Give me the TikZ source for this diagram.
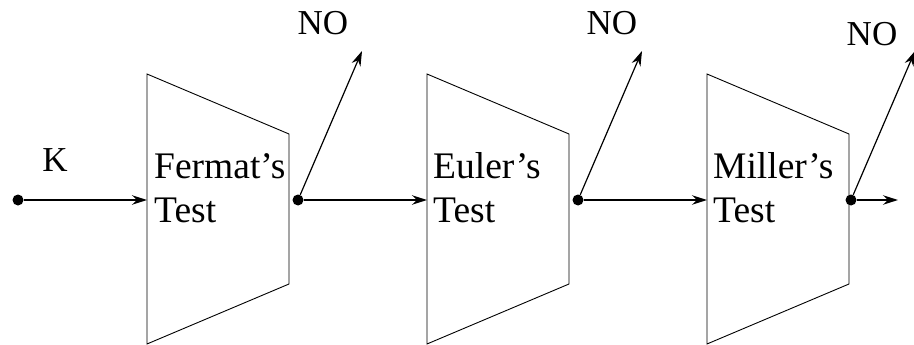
\documentclass[tikz,border=0pt]{standalone}
\usepackage{fontspec}
\setmainfont{Liberation Serif}
\usetikzlibrary{arrows.meta}
\begin{document}
\begin{tikzpicture}[x=1pt, y=-1pt,
  tester/.style={draw, line width=0.9pt, line join=miter},
  lbl/.style={font=\fontsize{35}{44}\selectfont, inner sep=0pt, align=left},
  stagetext/.style={lbl, font=\fontsize{37.5}{44}\selectfont, anchor=base west},
  dot/.style={circle, fill, inner sep=0pt, minimum size=11pt},
  flow/.style={line width=1.2pt, -{Stealth[length=15pt, width=9.5pt, inset=5pt]}}]
\useasboundingbox (0,0) rectangle (914,345);
\clip (0,0) rectangle (914,345);

% the three test stages
\foreach \n/\x in {fermat/147, euler/427, miller/707} {
  \draw[tester] (\x,74) -- (\x+142,134) -- (\x+142,284) -- (\x,344) -- cycle;
  \coordinate (\n-in) at (\x,200);
}
% base anchor sits on the baseline of the last line
\node[stagetext] (fermat-text) at (154,222) {Fermat’s\\Test};
\node[stagetext] (euler-text)  at (433,222) {Euler’s\\Test};
\node[stagetext] (miller-text) at (713,222) {Miller’s\\Test};

% junction points
\node[dot] (d0) at (18,200) {};
\node[dot] (d1) at (298,200) {};
\node[dot] (d2) at (578,200) {};
\node[dot] (d3) at (851,200) {};

% labels
\node[lbl] (k)   at (55,160) {K};
\node[lbl] (no1) at (323,23) {NO};
\node[lbl] (no2) at (612,23) {NO};
\node[lbl] (no3) at (872,34) {NO};

% free ends
\coordinate (rej1) at (362,51);
\coordinate (rej2) at (642,51);
\coordinate (rej3) at (915,51);
\coordinate (out)  at (898,200);

% flow
\draw[flow] (d0) -- (fermat-in);
\draw[flow] (d1) -- (euler-in);
\draw[flow] (d2) -- (miller-in);
\draw[flow] (d3) -- (out);
\draw[flow] (d1) -- (rej1);
\draw[flow] (d2) -- (rej2);
\draw[flow] (d3) -- (rej3);
\end{tikzpicture}
\end{document}
